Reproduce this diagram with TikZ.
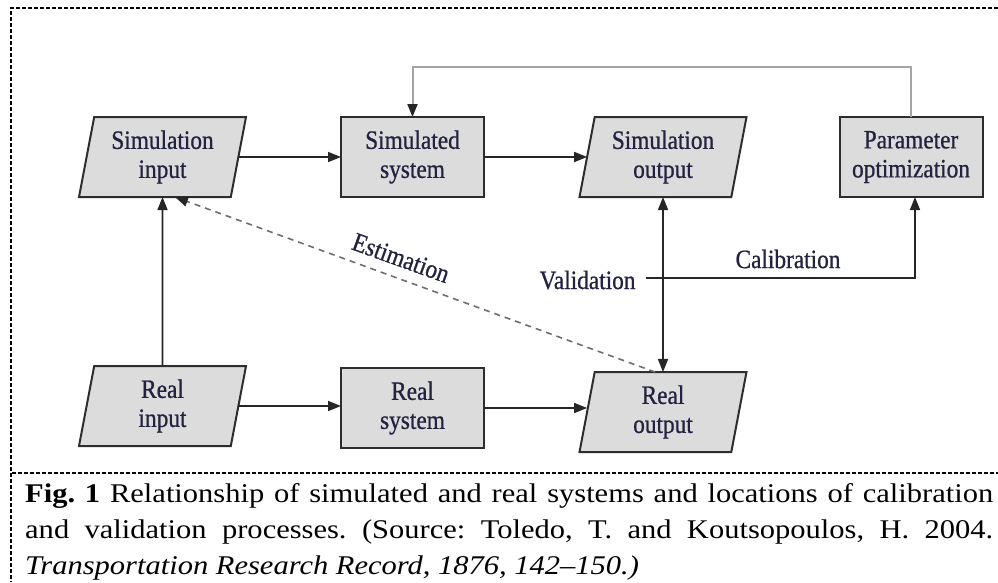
\documentclass[tikz,border=0pt]{standalone}
\usepackage{fontspec}
\setmainfont{Liberation Serif}[FakeStretch=1.13]
\newfontfamily\diagfont{Liberation Serif}[FakeStretch=0.88,FakeBold=0.8]
\usetikzlibrary{shapes.geometric,arrows.meta}
\definecolor{boxfill}{RGB}{220,220,220}
\definecolor{boxline}{RGB}{45,45,45}
\definecolor{txt}{RGB}{35,35,65}
\definecolor{fb}{RGB}{165,165,165}
\definecolor{est}{RGB}{110,110,110}
\begin{document}
\begin{tikzpicture}[x=1pt,y=-1pt,
  every node/.style={font=\diagfont\fontsize{26.5}{29}\selectfont, text=txt},
  rbox/.style={draw=boxline, fill=boxfill, line width=2pt, minimum width=143pt, minimum height=80pt, inner sep=0pt, outer sep=0pt, align=center},
  pbox/.style={rbox, trapezium, trapezium left angle=74, trapezium right angle=106, trapezium stretches body, minimum width=167pt},
  arr/.style={line width=1.6pt, draw=black!85, -{Triangle[length=13pt,width=10pt]}},
  darr/.style={line width=1.6pt, draw=black!85, {Triangle[length=13pt,width=10pt]}-{Triangle[length=13pt,width=10pt]}},
  fbarr/.style={line width=2pt, draw=fb, -{Triangle[length=13pt,width=10pt,color=black!85]}},
  estarr/.style={line width=1.6pt, draw=est, dash pattern=on 6pt off 5pt, -{Triangle[length=13pt,width=10pt,color=black!85]}},
  frame/.style={line width=1.6pt, draw=black, dash pattern=on 4pt off 2pt}
]
\useasboundingbox (0,0) rectangle (998,582);
% frame
\coordinate (f1) at (11,8);
\coordinate (f2) at (998,8);
\coordinate (f3) at (11,582);
\coordinate (c1) at (12,473);
\coordinate (c2) at (998,473);
\draw[frame] (f2) -- (f1) -- (f3);
\draw[frame] (c1) -- (c2);
% nodes
\node[pbox] (si) at (162.5,157) {Simulation\\input};
\node[rbox] (ss) at (412.5,157) {Simulated\\system};
\node[pbox] (so) at (663,157) {Simulation\\output};
\node[rbox] (po) at (911,157) {Parameter\\optimization};
\node[pbox] (ri) at (162.5,406) {Real\\input};
\node[rbox] (rs) at (412.5,408) {Real\\system};
\node[pbox] (ro) at (663,412) {Real\\output};
% connectors
\draw[arr] (si) -- (ss);
\draw[arr] (ss) -- (so);
\draw[fbarr] (po.north) -- ++(0,-50) -| (ss.north);
\draw[arr] (ri.north) -- (si.south);
\draw[arr] (ri.east) -- (ri.east -| rs.west);
\draw[arr] (rs.east) -- (rs.east -| ro.west);
\draw[darr] (so.south) -- (ro.north);
\coordinate (vl) at (646,278);
\draw[arr] (vl) -| ([xshift=4pt]po.south);
\node[anchor=east] (vt) at (639,280) {Validation};
\node (ct) at (788,259) {Calibration};
\draw[estarr] ([xshift=-8pt]ro.north) -- ([xshift=12.5pt]si.south);
\node[rotate=-19.8] (et) at (401,258) {Estimation};
% caption
\node[anchor=base west, inner sep=0pt, text=black, font=\rmfamily\fontsize{27}{36}\selectfont] (cap) at (25,502)
{\parbox[t]{968pt}{\frenchspacing\hyphenpenalty=10000 \textbf{Fig.~1} Relationship of simulated and real systems and locations of calibration\linebreak and validation processes. (Source: Toledo, T. and Koutsopoulos, H. 2004.\linebreak \textit{Transportation Research Record, 1876, 142--150.)}}};
\end{tikzpicture}
\end{document}
